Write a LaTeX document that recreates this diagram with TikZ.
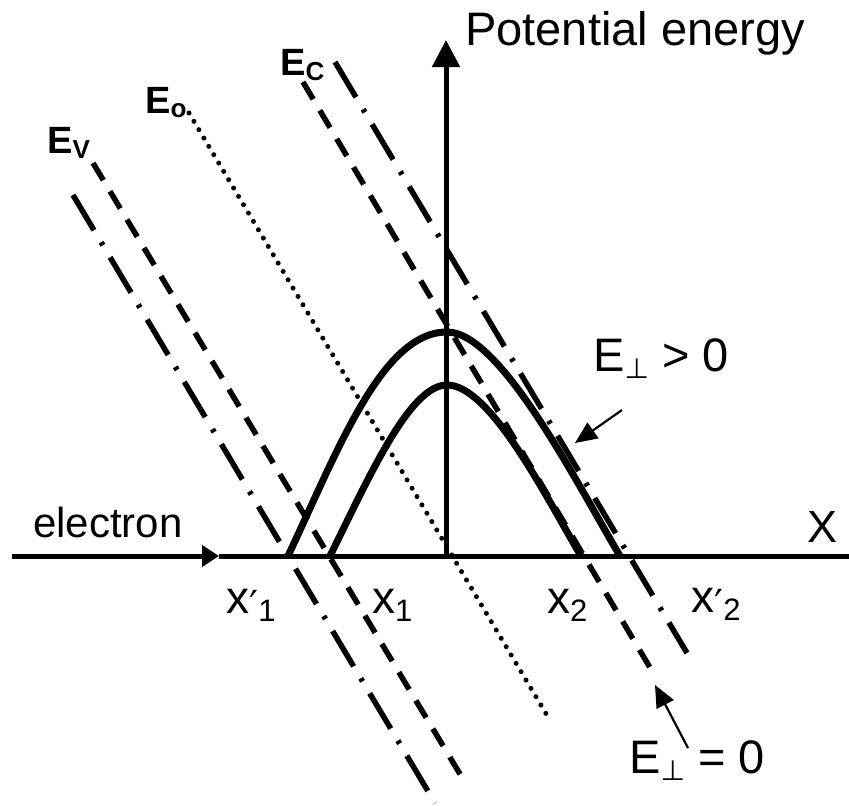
\documentclass[tikz,border=0pt]{standalone}
\usepackage{fontspec}
\setmainfont{Liberation Sans}
\newfontfamily\dvsans{DejaVu Sans}
\usetikzlibrary{arrows.meta}

% lowered index: #1 shift, #2 size, #3 text
\newcommand{\lowidx}[3]{\raisebox{#1}{\fontsize{#2}{#2}\selectfont #3}}
\newcommand{\perpsub}{\lowidx{-7pt}{28}{\dvsans ⊥}}
\newcommand{\primemark}{\lowidx{-6pt}{40}{\dvsans ′}}

\begin{document}
\begin{tikzpicture}[x=1pt, y=-1pt, line join=round]

	% ================= 1. styles =================
	\tikzset{
		axis/.style={line width=5pt},
		band/.style={line width=5.5pt, dash pattern=on 20pt off 13pt},
		banddot/.style={line width=5.5pt, dash pattern=on 41pt off 14pt on 3.5pt off 14pt},
		fermi/.style={line width=5pt, line cap=round, dash pattern=on 0pt off 9.7pt},
		barrier/.style={line width=7pt},
		pointer/.style={line width=2.2pt, -{Triangle[length=22pt, width=19pt]}},
		lbl/.style={inner sep=0pt, anchor=base west, font=\fontsize{47}{50}\selectfont},
		elbl/.style={inner sep=0pt, anchor=base west, font=\fontsize{38}{40}\selectfont\bfseries}
	}

	\useasboundingbox (0,0) rectangle (849,806);
	\fill[white] (0,0) rectangle (849,806);

	% ================= 2. axes =================
	\coordinate (O) at (446,556);
	\coordinate (xstart) at (12,556);
	\coordinate (xmid) at (219,556);
	\coordinate (xend) at (852,556);
	\coordinate (ytop) at (446,40);
	\draw[axis, -{Triangle[length=17pt, width=21pt]}] (xstart) -- (xmid);
	\draw[axis] (xmid) -- (xend);
	\draw[axis, -{Triangle[length=27pt, width=27pt]}] (O) -- (ytop);

	\node[lbl] (pe) at (465,45) {Potential energy};
	\node[lbl, font=\fontsize{42}{44}\selectfont] (el) at (33,537) {electron};
	\node[lbl, font=\fontsize{45}{48}\selectfont] (xl) at (807,542) {X};

	% ================= 3. band edges =================
	\draw[banddot] (73,195) -- (435,803);   % Ev, E_perp > 0
	\draw[band] (93,163) -- (463,779);      % Ev, E_perp = 0
	\draw[fermi] (189,113) -- (548,717);    % Eo
	\draw[band] (303,82) -- (655,676);      % Ec, E_perp = 0
	\draw[banddot] (335,62) -- (687,653);   % Ec, E_perp > 0

	\node[elbl] (ev) at (47,153) {E\lowidx{-5pt}{26}{V}};
	\node[elbl] (eo) at (145,113) {E\lowidx{-4pt}{26}{o}};
	\node[elbl] (ec) at (280,75) {E\lowidx{-5pt}{26}{C}};

	% ================= 4. barriers =================
	\draw[barrier] (288,556) .. controls (338,450) and (382,332) .. (447,332)
		.. controls (500,332) and (575,480) .. (620,556);
	\draw[barrier] (330,556) .. controls (370,475) and (410,385) .. (447,385)
		.. controls (490,385) and (545,495) .. (581,556);

	% turning points
	\node[lbl, font=\fontsize{46}{48}\selectfont] (x1p) at (226,613) {x\primemark\lowidx{-8pt}{31}{1}};
	\node[lbl, font=\fontsize{46}{48}\selectfont] (x1) at (372,613) {x\lowidx{-8pt}{31}{1}};
	\node[lbl, font=\fontsize{46}{48}\selectfont] (x2) at (547,613) {x\lowidx{-8pt}{31}{2}};
	\node[lbl, font=\fontsize{46}{48}\selectfont] (x2p) at (691,612) {x\primemark\lowidx{-8pt}{31}{2}};

	% ================= 5. E_perp labels =================
	\node[lbl] (gt) at (593,371) {E\perpsub{} > 0};
	\node[lbl] (eq) at (629,773) {E\perpsub{} = 0};

	\coordinate (gtTail) at (622,410);
	\coordinate (gtTip) at (575,443);
	\draw[pointer] (gtTail) -- (gtTip);
	\coordinate (eqTail) at (688,748);
	\coordinate (eqTip) at (655,685);
	\draw[pointer] (eqTail) -- (eqTip);

\end{tikzpicture}
\end{document}
